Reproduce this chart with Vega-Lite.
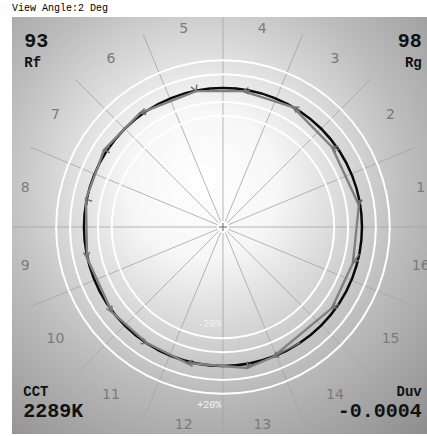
{
  "$schema": "https://vega.github.io/schema/vega-lite/v6.json",
  "width": 415,
  "height": 417,
  "autosize": {"type": "none"},
  "padding": {"left": 12, "top": 17, "right": 0, "bottom": 2},
  "background": "#ffffff",
  "config": {"view": {"stroke": null}},
  "title": {"text": "View Angle:2 Deg", "anchor": "start", "frame": "group", "font": "Liberation Mono", "fontSize": 10, "fontWeight": "normal", "color": "#000000", "offset": -6, "baseline": "bottom"},
  "layer": [
    {
      "data": {"values": [{"x": -1.518, "x2": 1.468, "y": -1.489, "y2": 1.511}]},
      "mark": {"type": "rect", "fill": {"gradient": "radial", "x1": 0.46, "y1": 0.4, "r1": 0, "x2": 0.46, "y2": 0.4, "r2": 0.8, "stops": [{"offset": 0, "color": "#ffffff"}, {"offset": 0.22, "color": "#f7f7f7"}, {"offset": 0.62, "color": "#bcbcbc"}, {"offset": 1, "color": "#8e8e8e"}]}},
      "encoding": {
        "x": {"field": "x", "type": "quantitative", "scale": {"domain": [-1.518, 1.468], "nice": false, "zero": false}, "axis": null},
        "x2": {"field": "x2"},
        "y": {"field": "y", "type": "quantitative", "scale": {"domain": [-1.489, 1.511], "nice": false, "zero": false}, "axis": null},
        "y2": {"field": "y2"}
      }
    },
    {
      "data": {"values": [
        {"x": 0, "y": 0, "x2": 1.5, "y2": 0},
        {"x": 0, "y": 0, "x2": 1.3858, "y2": 0.574},
        {"x": 0, "y": 0, "x2": 1.0607, "y2": 1.0607},
        {"x": 0, "y": 0, "x2": 0.574, "y2": 1.3858},
        {"x": 0, "y": 0, "x2": 0, "y2": 1.511},
        {"x": 0, "y": 0, "x2": -0.574, "y2": 1.3858},
        {"x": 0, "y": 0, "x2": -1.0607, "y2": 1.0607},
        {"x": 0, "y": 0, "x2": -1.3858, "y2": 0.574},
        {"x": 0, "y": 0, "x2": -1.518, "y2": 0},
        {"x": 0, "y": 0, "x2": -1.3858, "y2": -0.574},
        {"x": 0, "y": 0, "x2": -1.0607, "y2": -1.0607},
        {"x": 0, "y": 0, "x2": -0.574, "y2": -1.3858},
        {"x": 0, "y": 0, "x2": 0, "y2": -1.489},
        {"x": 0, "y": 0, "x2": 0.574, "y2": -1.3858},
        {"x": 0, "y": 0, "x2": 1.0607, "y2": -1.0607},
        {"x": 0, "y": 0, "x2": 1.3858, "y2": -0.574}
      ]},
      "mark": {"type": "rule", "color": "#a4a4a4", "strokeWidth": 0.8},
      "encoding": {
        "x": {"field": "x", "type": "quantitative", "scale": {"domain": [-1.518, 1.468], "nice": false, "zero": false}, "axis": null},
        "x2": {"field": "x2"},
        "y": {"field": "y", "type": "quantitative", "scale": {"domain": [-1.489, 1.511], "nice": false, "zero": false}, "axis": null},
        "y2": {"field": "y2"}
      }
    },
    {
      "data": {"values": [
        {"x": 0, "y": 0, "r": 0.8},
        {"x": 0, "y": 0, "r": 0.9},
        {"x": 0, "y": 0, "r": 1.1},
        {"x": 0, "y": 0, "r": 1.2}
      ]},
      "mark": {"type": "point", "shape": "circle", "filled": false, "stroke": "#ffffff", "strokeWidth": 2, "opacity": 1},
      "encoding": {
        "x": {"field": "x", "type": "quantitative", "scale": {"domain": [-1.518, 1.468], "nice": false, "zero": false}, "axis": null},
        "y": {"field": "y", "type": "quantitative", "scale": {"domain": [-1.489, 1.511], "nice": false, "zero": false}, "axis": null},
        "size": {"field": "r", "type": "quantitative", "scale": {"type": "pow", "exponent": 2, "domain": [0, 1.5], "range": [0, 173889], "zero": true}, "legend": null}
      }
    },
    {
      "data": {"values": [{"x": 0, "y": 0, "r": 1.0}]},
      "mark": {"type": "point", "shape": "circle", "filled": false, "stroke": "#0a0a0a", "strokeWidth": 2.5, "opacity": 1},
      "encoding": {
        "x": {"field": "x", "type": "quantitative", "scale": {"domain": [-1.518, 1.468], "nice": false, "zero": false}, "axis": null},
        "y": {"field": "y", "type": "quantitative", "scale": {"domain": [-1.489, 1.511], "nice": false, "zero": false}, "axis": null},
        "size": {"field": "r", "type": "quantitative", "scale": {"type": "pow", "exponent": 2, "domain": [0, 1.5], "range": [0, 173889], "zero": true}, "legend": null}
      }
    },
    {
      "data": {"name": "vec", "values": [
        {"bin": 1, "rx": 0.9808, "ry": 0.1951, "tx": 0.978, "ty": 0.158},
        {"bin": 2, "rx": 0.8315, "ry": 0.5556, "tx": 0.784, "ty": 0.576},
        {"bin": 3, "rx": 0.5556, "ry": 0.8315, "tx": 0.504, "ty": 0.863},
        {"bin": 4, "rx": 0.1951, "ry": 0.9808, "tx": 0.144, "ty": 0.978},
        {"bin": 5, "rx": -0.1951, "ry": 0.9808, "tx": -0.194, "ty": 0.978},
        {"bin": 6, "rx": -0.5556, "ry": 0.8315, "tx": -0.597, "ty": 0.82},
        {"bin": 7, "rx": -0.8315, "ry": 0.5556, "tx": -0.856, "ty": 0.554},
        {"bin": 8, "rx": -0.9808, "ry": 0.1951, "tx": -0.986, "ty": 0.201},
        {"bin": 9, "rx": -0.9808, "ry": -0.1951, "tx": -0.978, "ty": -0.223},
        {"bin": 10, "rx": -0.8315, "ry": -0.5556, "tx": -0.799, "ty": -0.612},
        {"bin": 11, "rx": -0.5556, "ry": -0.8315, "tx": -0.547, "ty": -0.835},
        {"bin": 12, "rx": -0.1951, "ry": -0.9808, "tx": -0.259, "ty": -0.978},
        {"bin": 13, "rx": 0.1951, "ry": -0.9808, "tx": 0.173, "ty": -1.014},
        {"bin": 14, "rx": 0.5556, "ry": -0.8315, "tx": 0.36, "ty": -0.935},
        {"bin": 15, "rx": 0.8315, "ry": -0.5556, "tx": 0.784, "ty": -0.583},
        {"bin": 16, "rx": 0.9808, "ry": -0.1951, "tx": 0.935, "ty": -0.259}
      ]},
      "layer": [
        {
          "mark": {"type": "line", "interpolate": "linear-closed", "color": "#808080", "strokeWidth": 2.4},
          "encoding": {
            "x": {"field": "tx", "type": "quantitative", "scale": {"domain": [-1.518, 1.468], "nice": false, "zero": false}, "axis": null},
            "y": {"field": "ty", "type": "quantitative", "scale": {"domain": [-1.489, 1.511], "nice": false, "zero": false}, "axis": null},
            "order": {"field": "bin", "type": "quantitative"}
          }
        },
        {
          "mark": {"type": "rule", "color": "#747474", "strokeWidth": 1.5},
          "encoding": {
            "x": {"field": "rx", "type": "quantitative", "scale": {"domain": [-1.518, 1.468], "nice": false, "zero": false}, "axis": null},
            "y": {"field": "ry", "type": "quantitative", "scale": {"domain": [-1.489, 1.511], "nice": false, "zero": false}, "axis": null},
            "x2": {"field": "tx"},
            "y2": {"field": "ty"}
          }
        },
        {
          "transform": [{"calculate": "atan2(datum.tx - datum.rx, datum.ty - datum.ry) * 180 / PI", "as": "ang"}],
          "mark": {"type": "point", "shape": "M-0.55,1L0,0L0.55,1", "filled": false, "stroke": "#747474", "strokeWidth": 1.5, "size": 130, "opacity": 1},
          "encoding": {
            "x": {"field": "tx", "type": "quantitative", "scale": {"domain": [-1.518, 1.468], "nice": false, "zero": false}, "axis": null},
            "y": {"field": "ty", "type": "quantitative", "scale": {"domain": [-1.489, 1.511], "nice": false, "zero": false}, "axis": null},
            "angle": {"field": "ang", "type": "quantitative", "scale": null}
          }
        }
      ]
    },
    {
      "data": {"values": [{"x": 0, "y": 0}]},
      "layer": [
        {
          "mark": {"type": "point", "shape": "circle", "filled": true, "color": "#ffffff", "size": 150, "opacity": 0.95},
          "encoding": {
            "x": {"field": "x", "type": "quantitative", "scale": {"domain": [-1.518, 1.468], "nice": false, "zero": false}, "axis": null},
            "y": {"field": "y", "type": "quantitative", "scale": {"domain": [-1.489, 1.511], "nice": false, "zero": false}, "axis": null}
          }
        },
        {
          "mark": {"type": "point", "shape": "M-1,0L1,0M0,-1L0,1", "filled": false, "stroke": "#666666", "strokeWidth": 1, "size": 64, "opacity": 1},
          "encoding": {
            "x": {"field": "x", "type": "quantitative", "scale": {"domain": [-1.518, 1.468], "nice": false, "zero": false}, "axis": null},
            "y": {"field": "y", "type": "quantitative", "scale": {"domain": [-1.489, 1.511], "nice": false, "zero": false}, "axis": null}
          }
        }
      ]
    },
    {
      "data": {"values": [
        {"label": "1", "x": 1.4222, "y": 0.2829},
        {"label": "2", "x": 1.2057, "y": 0.8056},
        {"label": "3", "x": 0.8056, "y": 1.2057},
        {"label": "4", "x": 0.2829, "y": 1.4222},
        {"label": "5", "x": -0.2829, "y": 1.4222},
        {"label": "6", "x": -0.8056, "y": 1.2057},
        {"label": "7", "x": -1.2057, "y": 0.8056},
        {"label": "8", "x": -1.4222, "y": 0.2829},
        {"label": "9", "x": -1.4222, "y": -0.2829},
        {"label": "10", "x": -1.2057, "y": -0.8056},
        {"label": "11", "x": -0.8056, "y": -1.2057},
        {"label": "12", "x": -0.2829, "y": -1.4222},
        {"label": "13", "x": 0.2829, "y": -1.4222},
        {"label": "14", "x": 0.8056, "y": -1.2057},
        {"label": "15", "x": 1.2057, "y": -0.8056},
        {"label": "16", "x": 1.4222, "y": -0.2829}
      ]},
      "mark": {"type": "text", "font": "DejaVu Sans", "fontSize": 14, "color": "#7a7a7a", "align": "center", "baseline": "middle"},
      "encoding": {
        "x": {"field": "x", "type": "quantitative", "scale": {"domain": [-1.518, 1.468], "nice": false, "zero": false}, "axis": null},
        "y": {"field": "y", "type": "quantitative", "scale": {"domain": [-1.489, 1.511], "nice": false, "zero": false}, "axis": null},
        "text": {"field": "label"}
      }
    },
    {
      "data": {"values": [
        {"label": "-20%", "x": -0.013, "y": -0.7},
        {"label": "+20%", "x": -0.013, "y": -1.28}
      ]},
      "mark": {"type": "text", "font": "Liberation Mono", "fontSize": 10, "color": "#f4f4f4", "align": "right", "baseline": "middle"},
      "encoding": {
        "x": {"field": "x", "type": "quantitative", "scale": {"domain": [-1.518, 1.468], "nice": false, "zero": false}, "axis": null},
        "y": {"field": "y", "type": "quantitative", "scale": {"domain": [-1.489, 1.511], "nice": false, "zero": false}, "axis": null},
        "text": {"field": "label"}
      }
    },
    {
      "data": {"values": [
        {"label": "93", "x": -1.43, "y": 1.295},
        {"label": "2289K", "x": -1.437, "y": -1.367}
      ]},
      "mark": {"type": "text", "font": "Liberation Mono", "fontSize": 20, "fontWeight": "bold", "color": "#111111", "align": "left", "baseline": "alphabetic"},
      "encoding": {
        "x": {"field": "x", "type": "quantitative", "scale": {"domain": [-1.518, 1.468], "nice": false, "zero": false}, "axis": null},
        "y": {"field": "y", "type": "quantitative", "scale": {"domain": [-1.489, 1.511], "nice": false, "zero": false}, "axis": null},
        "text": {"field": "label"}
      }
    },
    {
      "data": {"values": [
        {"label": "98", "x": 1.43, "y": 1.295},
        {"label": "-0.0004", "x": 1.43, "y": -1.367}
      ]},
      "mark": {"type": "text", "font": "Liberation Mono", "fontSize": 20, "fontWeight": "bold", "color": "#111111", "align": "right", "baseline": "alphabetic"},
      "encoding": {
        "x": {"field": "x", "type": "quantitative", "scale": {"domain": [-1.518, 1.468], "nice": false, "zero": false}, "axis": null},
        "y": {"field": "y", "type": "quantitative", "scale": {"domain": [-1.489, 1.511], "nice": false, "zero": false}, "axis": null},
        "text": {"field": "label"}
      }
    },
    {
      "data": {"values": [
        {"label": "Rf", "x": -1.43, "y": 1.151},
        {"label": "CCT", "x": -1.437, "y": -1.216}
      ]},
      "mark": {"type": "text", "font": "Liberation Mono", "fontSize": 14, "fontWeight": "bold", "color": "#111111", "align": "left", "baseline": "alphabetic"},
      "encoding": {
        "x": {"field": "x", "type": "quantitative", "scale": {"domain": [-1.518, 1.468], "nice": false, "zero": false}, "axis": null},
        "y": {"field": "y", "type": "quantitative", "scale": {"domain": [-1.489, 1.511], "nice": false, "zero": false}, "axis": null},
        "text": {"field": "label"}
      }
    },
    {
      "data": {"values": [
        {"label": "Rg", "x": 1.43, "y": 1.151},
        {"label": "Duv", "x": 1.43, "y": -1.216}
      ]},
      "mark": {"type": "text", "font": "Liberation Mono", "fontSize": 14, "fontWeight": "bold", "color": "#111111", "align": "right", "baseline": "alphabetic"},
      "encoding": {
        "x": {"field": "x", "type": "quantitative", "scale": {"domain": [-1.518, 1.468], "nice": false, "zero": false}, "axis": null},
        "y": {"field": "y", "type": "quantitative", "scale": {"domain": [-1.489, 1.511], "nice": false, "zero": false}, "axis": null},
        "text": {"field": "label"}
      }
    }
  ]
}
